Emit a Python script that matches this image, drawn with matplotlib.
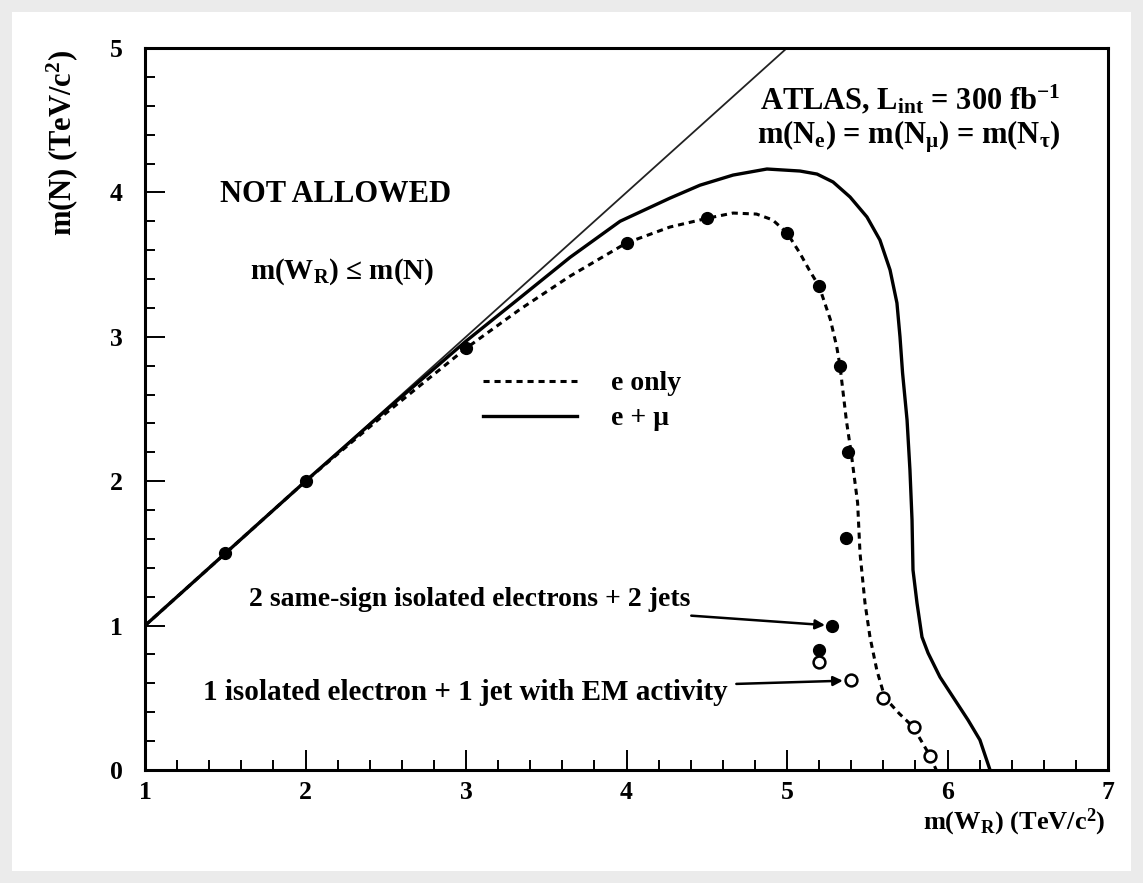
import matplotlib
matplotlib.use("Agg")
import matplotlib.pyplot as plt
from matplotlib.patches import Rectangle
from matplotlib.ticker import MultipleLocator

plt.rcParams['font.family'] = ['Liberation Serif', 'DejaVu Serif']
plt.rcParams['font.weight'] = 'bold'
plt.rcParams['mathtext.fontset'] = 'custom'
plt.rcParams['mathtext.rm'] = 'Liberation Serif:bold'
plt.rcParams['mathtext.it'] = 'Liberation Serif:bold'
plt.rcParams['mathtext.bf'] = 'Liberation Serif:bold'

# ---- data ----
diag_x = [1.0, 5.0]
diag_y = [1.0, 5.0]

eonly_x = [1.0, 1.5, 2.0, 2.5, 3.0, 3.336, 3.648, 4.0, 4.27, 4.5, 4.664, 4.81, 4.91, 5.0, 5.08,
           5.14, 5.2, 5.27, 5.31, 5.33, 5.37, 5.40, 5.44, 5.455, 5.486, 5.517, 5.56, 5.61, 5.70,
           5.785, 5.89, 5.93]
eonly_y = [1.0, 1.5, 2.0, 2.47, 2.92, 3.19, 3.42, 3.65, 3.76, 3.82, 3.857, 3.85, 3.81, 3.72, 3.58,
           3.46, 3.35, 3.12, 2.93, 2.80, 2.42, 2.195, 1.85, 1.5, 1.156, 0.921, 0.69, 0.5, 0.39,
           0.30, 0.10, 0.0]

emu_x = [1.0, 1.5, 2.0, 2.5, 3.0, 3.336, 3.648, 3.96, 4.27, 4.458, 4.664, 4.875, 5.081, 5.187,
         5.287, 5.393, 5.498, 5.579, 5.642, 5.685, 5.704, 5.72, 5.748, 5.766, 5.779, 5.785, 5.81,
         5.841, 5.879, 5.953, 6.034, 6.128, 6.202, 6.265]
emu_y = [1.0, 1.5, 2.0, 2.49, 2.97, 3.27, 3.55, 3.80, 3.96, 4.05, 4.12, 4.162, 4.148, 4.127,
         4.072, 3.968, 3.83, 3.67, 3.463, 3.234, 3.0, 2.75, 2.424, 2.078, 1.731, 1.385, 1.156,
         0.921, 0.81, 0.644, 0.506, 0.346, 0.208, 0.0]

filled_x = [1.5, 2.0, 3.0, 4.0, 4.5, 5.0, 5.2, 5.33, 5.38, 5.37, 5.28, 5.2]
filled_y = [1.5, 2.0, 2.92, 3.65, 3.82, 3.72, 3.35, 2.8, 2.2, 1.61, 1.0, 0.83]

open_x = [5.2, 5.4, 5.6, 5.79, 5.89]
open_y = [0.75, 0.62, 0.5, 0.3, 0.1]

xticks = [1, 2, 3, 4, 5, 6, 7]
yticks = [0, 1, 2, 3, 4, 5]

W, H = 1143, 883
fig = plt.figure(figsize=(W / 100, H / 100), dpi=100)
fig.patch.set_facecolor('#ebebeb')
fig.patches.append(Rectangle((12 / W, 12 / H), (1131 - 12) / W, (871 - 12) / H,
                             transform=fig.transFigure, facecolor='white',
                             edgecolor='none', zorder=-5))

ax = fig.add_axes([145 / W, 1 - 770 / H, (1108 - 145) / W, (770 - 48) / H])
ax.set_zorder(2)
ax.set_facecolor('white')
ax.set_xlim(1, 7)
ax.set_ylim(0, 5)

ax.plot(diag_x, diag_y, color='#222222', lw=1.3, zorder=2)
l1, = ax.plot(eonly_x, eonly_y, color='black', lw=2.2, ls=(0, (2.0, 1.6)), zorder=3)
l2, = ax.plot(emu_x, emu_y, color='black', lw=2.4, zorder=3, solid_joinstyle='round')
ax.plot(filled_x, filled_y, 'o', color='black', ms=8.5, zorder=4)
ax.plot(open_x, open_y, 'o', mfc='white', mec='black', mew=1.8, ms=8.5, zorder=4)

leg = ax.legend([l1, l2], ['e only', 'e + \u03bc'], loc='upper left',
                bbox_to_anchor=((458 - 145) / (1108 - 145), 1 - (346 - 48) / (770 - 48)),
                frameon=False, fontsize=20, handlelength=3.4, handletextpad=1.2,
                labelspacing=0.34)

ax.xaxis.set_minor_locator(MultipleLocator(0.2))
ax.yaxis.set_minor_locator(MultipleLocator(0.2))
ax.set_xticks(xticks)
ax.set_yticks(yticks)
ax.tick_params(which='major', direction='in', length=14.4, width=1.4, labelsize=18.5, pad=8)
ax.tick_params(which='minor', direction='in', length=7.2, width=1.4)
ax.tick_params(axis='y', pad=16)
for lab in ax.get_xticklabels() + ax.get_yticklabels():
    lab.set_fontweight('bold')
for s in ax.spines.values():
    s.set_linewidth(2.2)


def fx(px):
    return px / W


def fy(py):
    return 1 - py / H


fig.text(fx(220), fy(195), 'NOT ALLOWED', fontsize=22, fontweight='bold', va='center', ha='left', zorder=5)
fig.text(fx(250), fy(272), 'm(W$_\\mathrm{R}$) \u2264 m(N)', fontsize=21, fontweight='bold', va='center', ha='left', zorder=5)
fig.text(fx(760), fy(100), 'ATLAS, L$_\\mathrm{int}$ = 300 fb$^{-1}$', fontsize=22, fontweight='bold', va='center', ha='left', zorder=5)
fig.text(fx(757), fy(137), 'm(N$_\\mathrm{e}$) = m(N$_\\mathrm{\u03bc}$) = m(N$_\\mathrm{\u03c4}$)', fontsize=22, fontweight='bold', va='center', ha='left', zorder=5)

fig.text(fx(62), fy(50), 'm(N) (TeV/c$^2$)', rotation=90, fontsize=22, fontweight='bold', va='top', ha='center')
fig.text(fx(1105), fy(822), 'm(W$_\\mathrm{R}$) (TeV/c$^2$)', fontsize=19, fontweight='bold', va='center', ha='right')

ax.annotate('2 same-sign isolated electrons + 2 jets', xy=(filled_x[10], filled_y[10]),
            xytext=(fx(690), fy(600)), textcoords='figure fraction',
            fontsize=20, fontweight='bold', ha='right', va='center',
            arrowprops=dict(arrowstyle='-|>', color='black', lw=1.8,
                            shrinkA=4, shrinkB=5, mutation_scale=14))
ax.annotate('1 isolated electron + 1 jet with EM activity', xy=(open_x[1], open_y[1]),
            xytext=(fx(728), fy(692)), textcoords='figure fraction',
            fontsize=21, fontweight='bold', ha='right', va='center',
            arrowprops=dict(arrowstyle='-|>', color='black', lw=1.8,
                            shrinkA=4, shrinkB=6, mutation_scale=14))

fig.savefig('out.png', dpi=100, facecolor=fig.get_facecolor())
